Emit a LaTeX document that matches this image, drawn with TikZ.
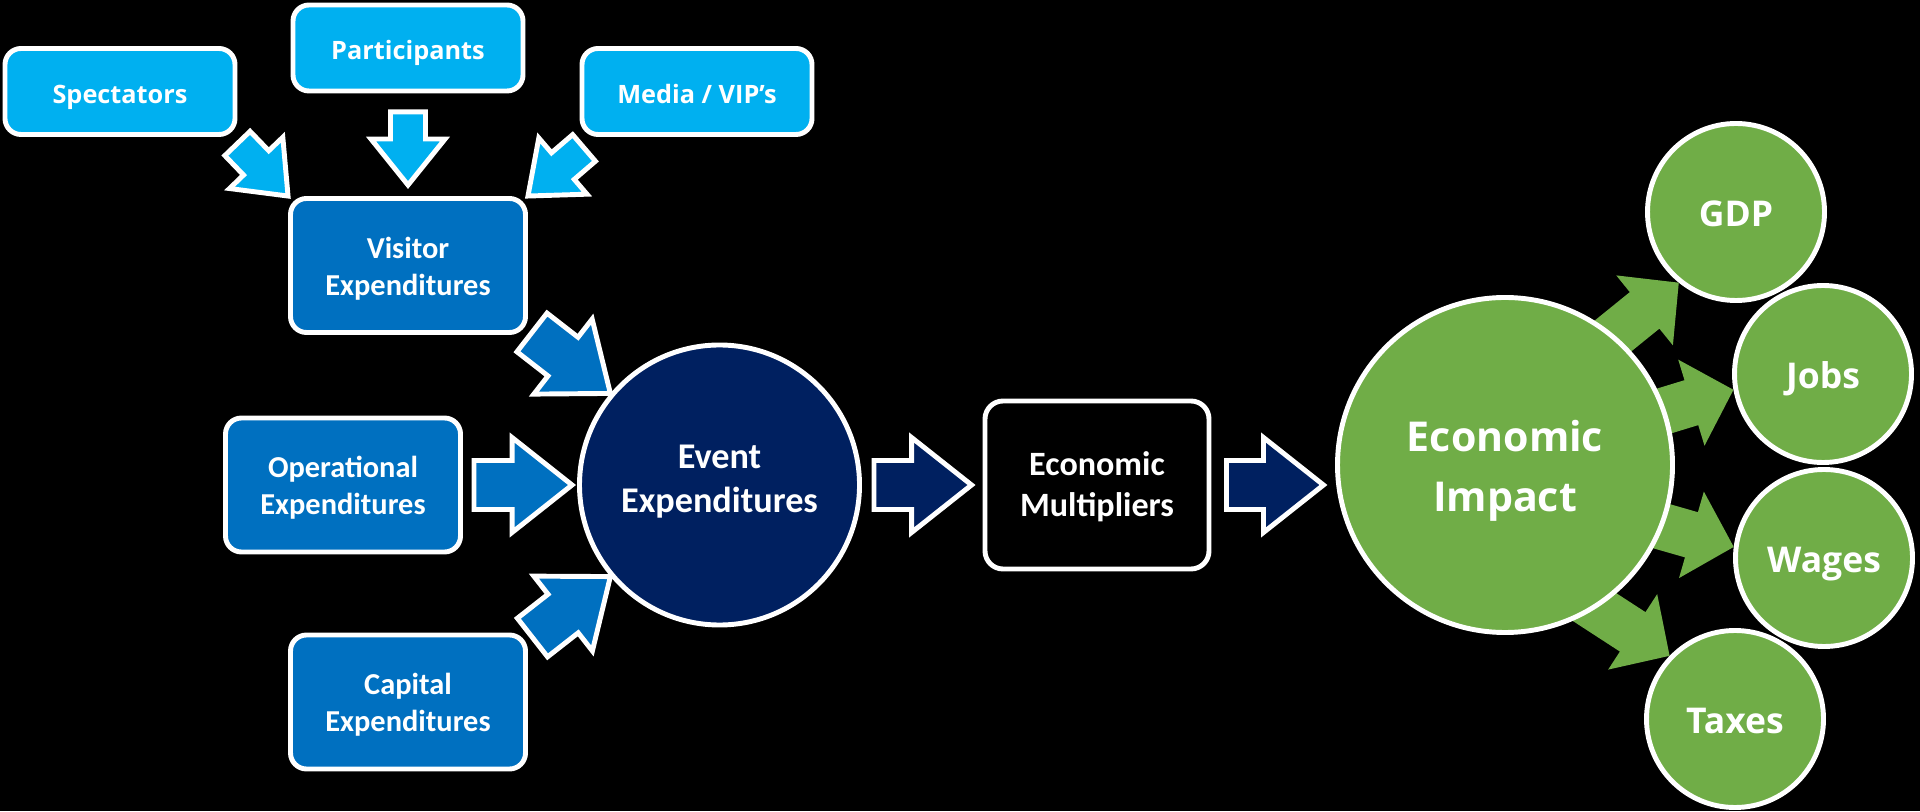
\documentclass[tikz,border=0pt]{standalone}
\usepackage{fontspec}
\setmainfont{Carlito}
\newfontfamily\opensans{Open Sans}
\usetikzlibrary{calc}

\definecolor{skyblue}{RGB}{0,176,240}
\definecolor{midblue}{RGB}{0,112,192}
\definecolor{navyblue}{RGB}{0,32,96}
\definecolor{leafgreen}{RGB}{112,173,71}

% block arrow: [style]{tail}{tip}{shaft half width}{head half width}{head length}
\newcommand{\blockarrow}[6][]{%
  \coordinate (hb) at ($(#3)!#6!(#2)$);
  \draw[#1] ($(#2)!#4!90:(#3)$) -- ($(hb)!#4!90:(#3)$) -- ($(hb)!#5!90:(#3)$) -- (#3)
    -- ($(hb)!#5!-90:(#3)$) -- ($(hb)!#4!-90:(#3)$) -- ($(#2)!#4!-90:(#3)$) -- cycle;
}

\begin{document}
\begin{tikzpicture}[
                    nodes={draw=white, line width=1.4pt, text=white, align=center},
                    skybox/.style={rounded corners=0.16cm, fill=skyblue, minimum width=2.30cm, minimum height=0.86cm,
                                   text height=6.6pt, text depth=0pt,
                                   font=\opensans\bfseries\fontsize{7.2}{8.6}\selectfont},
                    costbox/.style={rounded corners=0.16cm, fill=midblue, minimum width=2.35cm, minimum height=1.34cm,
                                    text height=17pt, text depth=0pt,
                                    font=\bfseries\fontsize{8.65}{10.5}\selectfont},
                    multbox/.style={rounded corners=0.18cm, fill=black, minimum width=2.24cm, minimum height=1.68cm,
                                    text height=17.9pt, text depth=0pt,
                                    font=\bfseries\fontsize{9.7}{11.7}\selectfont},
                    eventdisc/.style={circle, fill=navyblue, minimum size=2.80cm, inner sep=0,
                                      text height=15.7pt, text depth=0pt,
                                      font=\bfseries\fontsize{10.3}{12.5}\selectfont},
                    bigdisc/.style={circle, fill=leafgreen, minimum size=3.35cm, inner sep=0,
                                    text height=26.5pt, text depth=0pt,
                                    font=\opensans\bfseries\fontsize{11.7}{17}\selectfont},
                    smalldisc/.style={circle, fill=leafgreen, minimum size=1.77cm, inner sep=0,
                                      text height=8.4pt, text depth=0pt,
                                      font=\opensans\bfseries\fontsize{10.1}{12}\selectfont},
                    skyarrow/.style={draw=white, line width=1.4pt, fill=skyblue, line join=miter},
                    bluearrow/.style={draw=white, line width=1.4pt, fill=#1, line join=miter},
                    greenarrow/.style={draw=none, fill=leafgreen}]
                \fill[black] (0,0) rectangle (19.2,8.11);
                \useasboundingbox (0,0) rectangle (19.2,8.11);

                % visitor groups
                \node (spect) [skybox] at (1.20,7.195) {Spectators};
                \node (part) [skybox] at (4.08,7.63) {Participants};
                \node (media) [skybox] at (6.97,7.195) {Media / VIP’s};

                % spending
                \node (visit) [costbox] at (4.08,5.455) {Visitor\\Expenditures};
                \node (oper) [costbox] at (3.43,3.26) {Operational\\Expenditures};
                \node (capit) [costbox] at (4.08,1.09) {Capital\\Expenditures};
                \node (event) [eventdisc] at (7.195,3.26) {Event\\Expenditures};
                \node (mult) [multbox] at (10.97,3.26) {Economic\\Multipliers};

                % results
                \node (gdp) [smalldisc] at (17.36,5.99) {GDP};
                \node (jobs) [smalldisc] at (18.23,4.37) {Jobs};
                \node (wages) [smalldisc] at (18.24,2.53) {Wages};
                \node (taxes) [smalldisc] at (17.35,0.92) {Taxes};

                \coordinate (gdp-tail) at ($(gdp.231)+(219:2)$);
                \coordinate (jobs-tail) at ($(jobs.190)+(197:2)$);
                \coordinate (wages-tail) at ($(wages.173)+(164:2)$);
                \coordinate (taxes-tail) at ($(taxes.136)+(147:2)$);
                \blockarrow[greenarrow]{gdp-tail}{gdp.231}{0.235cm}{0.45cm}{0.44cm}
                \blockarrow[greenarrow]{jobs-tail}{jobs.190}{0.235cm}{0.45cm}{0.44cm}
                \blockarrow[greenarrow]{wages-tail}{wages.173}{0.235cm}{0.45cm}{0.44cm}
                \blockarrow[greenarrow]{taxes-tail}{taxes.136}{0.235cm}{0.45cm}{0.44cm}

                \node (impact) [bigdisc] at (15.05,3.46) {Economic\\Impact};

                % connectors
                \coordinate (spect-tail) at ($(spect.south east)+(0,-0.065)$);
                \coordinate (part-tail) at ($(part.south)+(0,-0.185)$);
                \coordinate (part-tip) at ($(visit.north)+(0,0.11)$);
                \coordinate (media-tail) at ($(media.south west)+(0.045,-0.11)$);
                \blockarrow[skyarrow]{spect-tail}{visit.north west}{0.175cm}{0.37cm}{0.46cm}
                \blockarrow[skyarrow]{part-tail}{part-tip}{0.175cm}{0.37cm}{0.46cm}
                \blockarrow[skyarrow]{media-tail}{visit.north east}{0.175cm}{0.37cm}{0.46cm}

                \coordinate (visit-tail) at ($(visit.south east)+(0.04,0.025)$);
                \coordinate (oper-tail) at ($(oper.east)+(0.11,0)$);
                \coordinate (oper-tip) at ($(event.west)+(-0.05,0)$);
                \coordinate (capit-tail) at ($(capit.north east)+(0.045,-0.05)$);
                \blockarrow[bluearrow=midblue]{visit-tail}{event.140}{0.245cm}{0.475cm}{0.60cm}
                \blockarrow[bluearrow=midblue]{oper-tail}{oper-tip}{0.245cm}{0.475cm}{0.60cm}
                \blockarrow[bluearrow=midblue]{capit-tail}{event.220}{0.245cm}{0.475cm}{0.60cm}

                \coordinate (event-tail) at ($(event.east)+(0.12,0)$);
                \coordinate (event-tip) at ($(mult.west)+(-0.11,0)$);
                \coordinate (mult-tail) at ($(mult.east)+(0.15,0)$);
                \coordinate (mult-tip) at ($(mult.east)+(1.12,0)$);
                \blockarrow[bluearrow=navyblue]{event-tail}{event-tip}{0.245cm}{0.475cm}{0.60cm}
                \blockarrow[bluearrow=navyblue]{mult-tail}{mult-tip}{0.245cm}{0.475cm}{0.60cm}
            \end{tikzpicture}
\end{document}
